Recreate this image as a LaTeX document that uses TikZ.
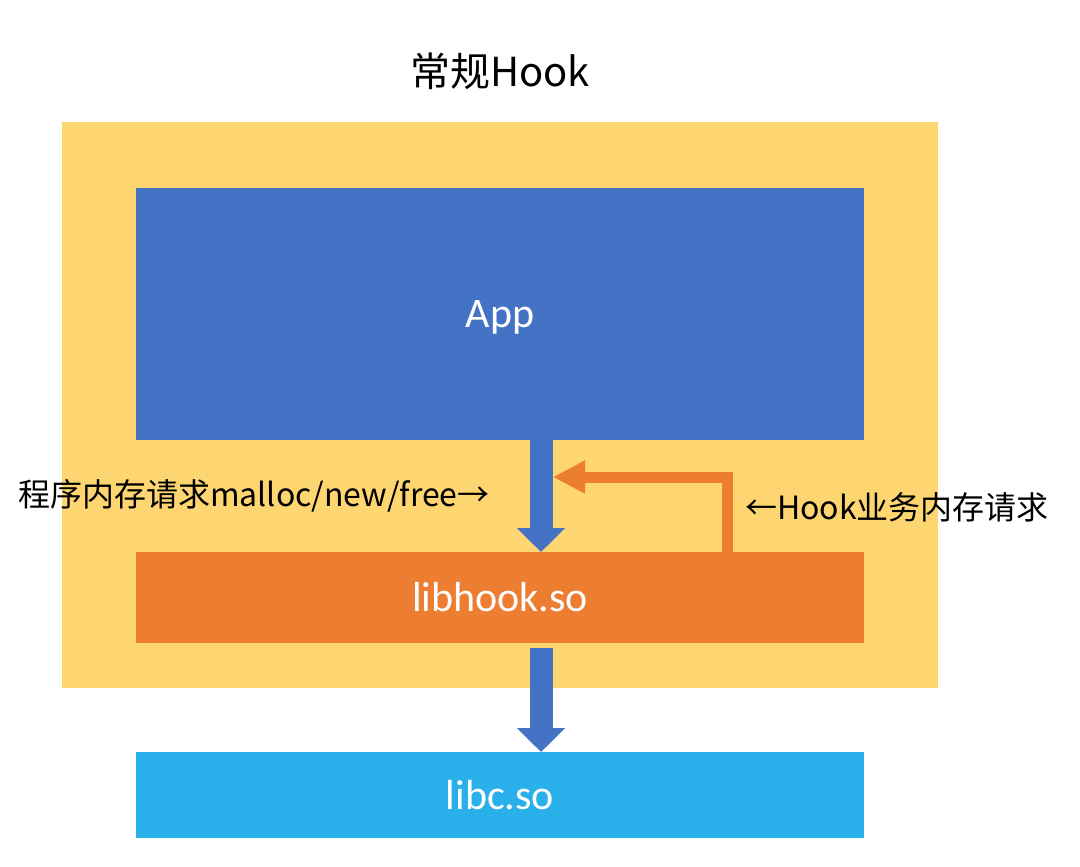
\documentclass[tikz,border=0pt]{standalone}
\usepackage{fontspec}
\setmainfont{Noto Sans CJK SC}
\newfontfamily\boxfont{Carlito}
\usepackage{xcolor}
\usepackage{tikz}
\usetikzlibrary{arrows.meta,positioning}

\definecolor{bgyellow}{HTML}{FDD672}
\definecolor{appblue}{HTML}{4472C4}
\definecolor{hookorange}{HTML}{ED7D31}
\definecolor{libcblue}{HTML}{29AFEA}

\begin{document}
\begin{tikzpicture}[x=1pt,y=-1pt]
  \tikzset{ box/.style={rectangle,inner sep=0pt,outer sep=0pt,text=white,
      font=\boxfont\fontsize{42}{50}\selectfont},
    lbl/.style={inner sep=0pt,font=\fontsize{32}{38}\selectfont},
    blockarrow/.style={draw=appblue,line width=23pt,
      -{Triangle[width=47pt,length=24pt]}},
    hookarrow/.style={draw=hookorange,line width=11pt,line join=miter,
      -{Triangle[width=31pt,length=32pt]}},
  }
  \useasboundingbox (0,0) rectangle (1080,867);

  \node[lbl, font=\fontsize{40}{48}\selectfont] (title) at (500,71) {常规Hook};

  \node[box, fill=bgyellow, minimum width=876pt, minimum height=566pt] (bg) at (500,405) {};
  \node[box, fill=appblue, minimum width=728pt, minimum height=252pt, text depth=0pt] (app) at (500,314) {App};
  \node[box, fill=hookorange, minimum width=728pt, minimum height=91pt] (libhook) at (500,597.5) {libhook.so};
  \node[box, fill=libcblue, minimum width=728pt, minimum height=86pt] (libc) at (500,795) {libc.so};

  % the arrows between the boxes
  \coordinate (callx) at (541,0);
  \coordinate (hookx) at (727,0);
  \coordinate (hooktip) at (553,477);
  \draw[blockarrow] (app.south -| callx) -- (libhook.north -| callx);
  \draw[blockarrow, shorten <=5pt] (libhook.south -| callx) -- (libc.north -| callx);
  \draw[hookarrow] (libhook.north -| hookx) |- (hooktip);

  \node[lbl, anchor=west] (req) at (18,496) {程序内存请求malloc/new/free→};
  \node[lbl, anchor=west] (hookreq) at (745,507) {←Hook业务内存请求};
\end{tikzpicture}
\end{document}
